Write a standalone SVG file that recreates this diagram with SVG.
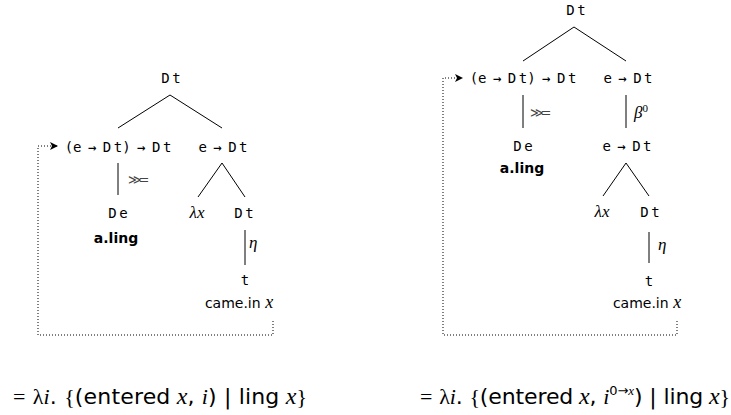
<svg xmlns="http://www.w3.org/2000/svg" width="731" height="415" viewBox="0 0 731 415">
<defs>
<marker id="ah" viewBox="0 0 8 8" refX="7" refY="4" markerWidth="8" markerHeight="8" markerUnits="userSpaceOnUse" orient="auto">
<path d="M0,0 L8,4 L0,8 L2,4 Z" fill="#000"/>
</marker>
</defs>
<style>
.ty{font-family:"DejaVu Sans Mono",monospace;font-size:14px;fill:#000;text-anchor:middle;word-spacing:-2px}
.ls{letter-spacing:2.5px}
.sf{font-family:"DejaVu Sans",sans-serif;font-size:14px;fill:#000;text-anchor:middle}
.b{font-weight:bold}
.mi{font-family:"Liberation Serif",serif;font-style:italic}
.m{font-family:"Liberation Serif",serif;font-size:17px;fill:#000;font-style:italic}
.bind{font-family:"DejaVu Sans",sans-serif;font-size:13px;fill:#444;letter-spacing:-3px}
.ed{stroke:#000;stroke-width:1;fill:none}
.dot{stroke:#000;stroke-width:1;fill:none;stroke-dasharray:1,2}
.fm{font-family:"DejaVu Sans",sans-serif;font-size:22px;fill:#000}
.op{font-family:"Liberation Serif",serif}
</style>
<g id="connectors">
<path class="ed" d="M170,95 L118,128 M170,95 L222,128"/>
<path class="ed" d="M118,163 L118,195"/>
<path class="ed" d="M222,163 L198,197 M222,163 L245,197"/>
<path class="ed" d="M245,230 L245,265"/>
<path class="dot" d="M273,321 L273,335 L38,335 L38,146 L57,146" marker-end="url(#ah)"/>
<path class="ed" d="M574,27 L523,61 M574,27 L626,61"/>
<path class="ed" d="M523,95 L523,128"/>
<path class="ed" d="M626,95 L626,128"/>
<path class="ed" d="M626,163 L603,196 M626,163 L649,196"/>
<path class="ed" d="M649,232 L649,263"/>
<path class="dot" d="M677,321 L677,335 L443,335 L443,78 L462,78" marker-end="url(#ah)"/>
</g>
<g id="L-root"><text class="ty" x="171" y="83"><tspan class="ls">D</tspan>t</text></g>
<g id="L-fn"><text class="ty" x="118" y="152">(e → <tspan class="ls">D</tspan>t) → <tspan class="ls">D</tspan>t</text></g>
<g id="L-bind"><text class="bind" x="128" y="184">≫=</text></g>
<g id="L-arg"><text class="ty" x="223" y="152">e → <tspan class="ls">D</tspan>t</text></g>
<g id="L-De"><text class="ty" x="118" y="218"><tspan class="ls">D</tspan>e</text><text class="sf b" x="116" y="243">a.ling</text></g>
<g id="L-lam"><text class="m" x="197" y="218" text-anchor="middle">λx</text></g>
<g id="L-Dt"><text class="ty" x="244" y="218"><tspan class="ls">D</tspan>t</text></g>
<g id="L-eta"><text class="m" x="249" y="248">η</text></g>
<g id="L-t"><text class="ty" x="245" y="285">t</text><text class="sf" x="239" y="308">came.in<tspan class="mi" font-size="18"> x</tspan></text></g>

<g id="R-root"><text class="ty" x="576" y="15"><tspan class="ls">D</tspan>t</text></g>
<g id="R-fn"><text class="ty" x="523" y="83">(e → <tspan class="ls">D</tspan>t) → <tspan class="ls">D</tspan>t</text></g>
<g id="R-bind"><text class="bind" x="530" y="117">≫=</text></g>
<g id="R-arg"><text class="ty" x="628" y="83">e → <tspan class="ls">D</tspan>t</text></g>
<g id="R-beta"><text class="m" x="634" y="118">β<tspan font-style="normal" font-size="11" dy="-6">0</tspan></text></g>
<g id="R-De"><text class="ty" x="523" y="151"><tspan class="ls">D</tspan>e</text><text class="sf b" x="522" y="173">a.ling</text></g>
<g id="R-arg2"><text class="ty" x="627" y="151">e → <tspan class="ls">D</tspan>t</text></g>
<g id="R-lam"><text class="m" x="602" y="217" text-anchor="middle">λx</text></g>
<g id="R-Dt"><text class="ty" x="650" y="217"><tspan class="ls">D</tspan>t</text></g>
<g id="R-eta"><text class="m" x="658" y="250">η</text></g>
<g id="R-t"><text class="ty" x="649" y="286">t</text><text class="sf" x="647" y="308">came.in<tspan class="mi" font-size="18"> x</tspan></text></g>

<g id="formula-left"><text class="fm" x="13" y="404" textLength="294" lengthAdjust="spacing"><tspan class="op">=</tspan> <tspan class="op">λ</tspan><tspan class="mi">i</tspan>. <tspan class="op">{</tspan>(entered<tspan class="mi" font-size="24"> x</tspan>, <tspan class="mi">i</tspan>) | ling<tspan class="mi" font-size="24"> x</tspan><tspan class="op">}</tspan></text></g>
<g id="formula-right"><text class="fm" x="420" y="404" textLength="310" lengthAdjust="spacing"><tspan class="op">=</tspan> <tspan class="op">λ</tspan><tspan class="mi">i</tspan>. <tspan class="op">{</tspan>(entered<tspan class="mi" font-size="24"> x</tspan>, <tspan class="mi">i</tspan><tspan font-size="13" dy="-9">0→<tspan class="mi">x</tspan></tspan><tspan dy="9">) | ling</tspan><tspan class="mi" font-size="24"> x</tspan><tspan class="op">}</tspan></text></g>
</svg>
